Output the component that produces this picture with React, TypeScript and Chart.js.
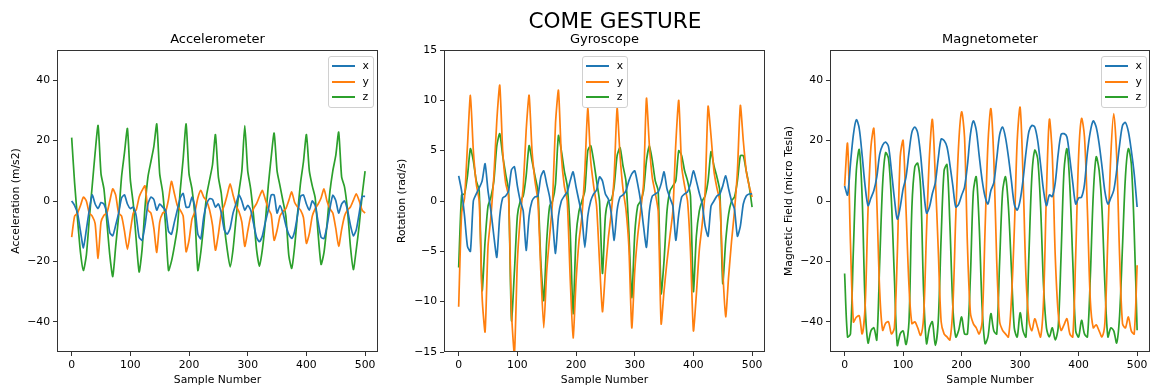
import React, { useEffect, useRef } from "react";
import { Chart, registerables } from "chart.js";

Chart.register(...registerables);

const FONT = "'DejaVu Sans', 'Liberation Sans', sans-serif";
const SERIES_NAMES = ["x", "y", "z"];
const SERIES_COLORS = ["#1f77b4", "#ff7f0e", "#2ca02c"];

const sampleIdx = [
  0, 5, 10, 15, 20, 25, 30, 35, 40, 45, 50, 55, 60, 65, 70, 75, 80, 85, 90, 95,
  100, 105, 110, 115, 120, 125, 130, 135, 140, 145, 150, 155, 160, 165, 170, 175, 180, 185, 190, 195,
  200, 205, 210, 215, 220, 225, 230, 235, 240, 245, 250, 255, 260, 265, 270, 275, 280, 285, 290, 295,
  300, 305, 310, 315, 320, 325, 330, 335, 340, 345, 350, 355, 360, 365, 370, 375, 380, 385, 390, 395,
  400, 405, 410, 415, 420, 425, 430, 435, 440, 445, 450, 455, 460, 465, 470, 475, 480, 485, 490, 495,
  500,
];

const xTickValues = [0, 100, 200, 300, 400, 500];
const accelTickValues = [-40, -20, 0, 20, 40];
const gyroTickValues = [-15, -10, -5, 0, 5, 10, 15];
const magTickValues = [-40, -20, 0, 20, 40];

// Accelerometer (m/s2)
const accelX = [
  0, -1.5, -4, -10, -15.5, -9.5, -3, 2, -1, -2.5, -0.5, -1, -4, -10.5, -11.5, -8, -4, 1, 2, -1,
  -2.5, -2, -5, -12, -13, -8, -1, 1.3, 0.5, -3, -1, -2, -3, -10, -11, -7, -3, 1, 2.5, -2,
  -2, 1.3, -2, -11, -12.5, -5.3, -1, 0.8, 0.5, -2, -1, -4, -9.5, -11, -9, -4, -1, 2, 0, -3,
  -1.4, -3, -7.5, -12, -13.5, -11.5, -7, -3, 2, 2, -4, -1.5, -4, -8, -11, -12.4, -10, -4.5, 1.5, 2,
  -1, -3, 0, -1.5, -7, -12, -12.4, -8.5, -2.5, 1.9, 0.2, -4, -1, 0, -3, -8, -11.5, -9.5, -4, 1.5,
  1.5,
];
const accelY = [
  -12, -5, -4, -1.5, 1.3, 0, -4, -5, -7.5, -19, -7, -4.7, -4, 0, 4, 2, -4, -5, -10, -16,
  -10, -4, -3, 1.3, 3.5, 5, -3, -4, -9, -17, -7, -4, -3.5, 0.5, 6.5, 2.5, -1.5, -3, -5, -16.8,
  -13, -6, -3.6, 1, 3.5, 1.3, 0, -3, -8, -16.3, -11, -4, -1.5, 2, 5.7, 2, -1.5, -3.5, -7, -15,
  -10, -5, -2.5, -0.9, 1.5, 3.5, 0.5, -2.5, -4.5, -13, -9.7, -5, -3.5, -2.5, 0.2, 3, -0.5, -2, -3, -5.5,
  -14, -10.8, -5, -2.5, -1, 1, 4, 0, -2.5, -4, -9, -15, -9.5, -5, -3, -2, 0.2, 2.4, 0, -3,
  -4,
];
const accelZ = [
  21, 6, -6, -17, -23, -18, -6, 5, 16, 25, 9, 4, -7, -18, -25, -15, -5, 8, 16, 24,
  7, -1, -13, -23.5, -16, -2, 8, 13, 18, 25.5, 9, 3, -8, -23, -20, -15, -9, 3.5, 14, 25.5,
  9, 4, -5, -23, -17, -8, 2, 7, 12, 22, 8, 2.4, -8, -16, -21.8, -16, -6, 3, 10, 25,
  10, 4, -5, -16, -21.6, -16, -7, 5, 14.5, 22.5, 10, 5, 0, -5, -18, -22.3, -15, -4, 6, 13,
  22, 10, 5, 1, -11, -21, -17, -8, 3, 10, 15, 22.8, 8, 4.6, -3, -15, -22.7, -16, -8, 2,
  9.9,
];

// Gyroscope (rad/s)
const gyroX = [
  2.5, 1, -1.5, -4.5, -5, 0, 0.7, 1.3, 2, 3.7, 1, -1, -3.5, -5.6, -1.5, 0.3, 0.5, 1, 3.1, 3.4,
  1.5, 0, -1, -4.9, -1.5, 0, 0.4, 0.5, 2.4, 3, 1.7, 0.4, -2, -5.2, -1.5, 0, 0.5, 0.9, 2, 2.9,
  1.4, 0, -1.5, -4.6, -1.5, 0, 0.7, 1.1, 2.4, 2, 0.7, 0.2, -1.2, -3.9, -0.9, 0.4, 0.6, 1, 2, 2.7,
  3, 1.7, 0, -2.5, -4.6, -1, 0.5, 0.7, 0.9, 1.7, 2.9, 1.2, 0.3, -0.5, -3.9, -1.3, 0.4, 0.7, 0.9, 1.7,
  3, 2, 0.8, -0.3, -2.5, -3.5, -0.5, 0, 0.5, 0.7, 1.5, 2.5, 1.2, 0, -0.8, -3.5, -2.5, -0.3, 0.5, 0.7,
  0.7,
];
const gyroY = [
  -10.5, -1.2, 0.3, 5.5, 10.5, 5, 1.7, 0, -9.6, -13, -4.5, -1.5, 2.5, 8, 11.5, 5, 1.8, 0.5, -11, -15.2,
  -6, -1.6, 1.4, 7, 10.5, 5, 2, 0, -7, -12.6, -7, -3.5, 0, 7.7, 11, 4.5, 1.5, 0, -7.6, -13.6,
  -8, -4, -1.5, 3, 9.2, 4, 1.5, -0.5, -6, -11, -7, -3.7, -1.2, 2.5, 9.2, 4.5, 1.2, -0.8, -4.5, -12.6,
  -7, -3.5, -1, 1.7, 10.2, 5.5, 2.3, 0.8, -1, -12.2, -8.9, -6, -3.5, -1, 5.7, 10, 3.4, 1.5, 0, -5,
  -12.9, -9.3, -4.9, -2.3, 1, 9.4, 6.5, 3, 1.3, 0, -6.9, -11.5, -7.5, -4, -1, 3, 9.5, 6, 3, 1.5,
  0.4,
];
const gyroZ = [
  -6.6, 0.6, 0.7, 2.5, 5.2, 4, 2, 1, -8.9, -4, -0.5, 0.4, 2, 5.5, 6.7, 4.5, 2.7, 1, -11.9, -7,
  -1.5, 0, 0.5, 2.5, 5.5, 4, 2.5, 1, -6, -9.9, -4, -0.5, 0, 1.7, 6.5, 5, 3, 1.5, -3, -11.2,
  -3.5, -1, 0, 1, 5, 5.5, 4, 2, 0, -7.2, -1.5, 0, 0.1, 1.5, 4.5, 5.3, 3.5, 2, -3, -9.6,
  -3.3, -0.5, 0, 1, 4, 5.5, 4, 2, 1, -9.2, -5.9, -1, 1, 1.5, 2, 5, 4.5, 3, 2, 0.5,
  -9, -3.5, -1, 0, 0.5, 2, 4.9, 3.5, 2.4, 1, -8.2, -4, -1.3, 0, 0.4, 2, 4.5, 4.5, 3, 1.5,
  -0.6,
];

// Magnetometer (micro Tesla)
const magX = [
  5, 2, 12.4, 22, 26.9, 24, 15, 5, -1.5, 1, 3.5, 8, 15.5, 18.5, 19.5, 18, 10, 1, -6, -2,
  4, 8, 16, 22.8, 24.5, 22.5, 15, 4, -4, -2, 2.5, 6, 14, 20.5, 20, 17.9, 12, 5, -2, -1,
  1.9, 4.6, 12, 22, 26.5, 23.5, 15, 7, 1.5, -1, 3.5, 6, 14, 22, 24.5, 21, 14.6, 6.8, -1, -3,
  0.2, 7, 16, 23, 25, 24.5, 20, 12, 3.5, -1.5, 2, 1.5, 6, 15.5, 22, 22.3, 21.2, 14, 6, -1,
  1, 1.3, 5.5, 16, 23, 26.5, 24.5, 19, 11.3, 3, -1, 1, 3.5, 10, 18.5, 25, 26, 23, 16.8, 9,
  -2,
];
const magY = [
  5, 19, -14, -40, -38.5, -38, -44, -35, -3, 18, 24, 0, -30, -42.8, -40.5, -40, -44, -42, -18, 14.6,
  20, -3, -28, -40.6, -40, -42, -44.5, -38.4, -10, 15, 27, 8, -16, -40, -44, -45, -46, -35, -5, 19,
  29.5, 21, -15, -37, -40.6, -42, -44, -40, -10, 19, 30.6, 14, -20, -40, -42.8, -44, -45, -33, -10, 20,
  31, 8, -25, -39.5, -43, -39, -42, -45, -33, 3, 27, 15, -18, -37, -42.8, -41, -39, -44, -45, -18,
  15, 27.3, 21.2, -3, -33, -42, -41, -43, -45, -40, -12, 15, 28.9, 15, -18, -40.6, -42, -38.4, -43, -44,
  -21.3,
];
const magZ = [
  -24, -45, -44, -16, 10, 17, 1, -34, -47, -43, -42, -46, -20, 5.7, 16, 14, 0, -25, -47.8, -44,
  -43, -47.5, -40, -2, 11.3, 12.5, 4, -30, -47.2, -42, -40, -47.8, -40, -12, 10, 12, -8, -35, -45, -42.8,
  -38.4, -44, -44, -25, 3, 8, -8, -35, -47.2, -45, -37.3, -43, -44, -20, 3, 8, -2, -22, -42, -45,
  -37, -43, -45, -18, 8, 16.8, 14, -2, -28, -42, -45, -42, -46, -42, -18, 10, 17.3, 5, -20, -43,
  -45, -39.5, -44, -45, -25, 2, 14.6, 10.2, -3, -28, -45, -42, -43, -47, -38, -15, 8, 17.3, 12.4, -10,
  -42.8,
];

const minus = (v: number) => (v < 0 ? "\u2212" + Math.abs(v) : String(v));

const framePlugin = {
  id: "frameBox",
  afterDatasetsDraw(chart: any) {
    const { ctx, chartArea: a } = chart;
    ctx.save();
    ctx.strokeStyle = "#333";
    ctx.lineWidth = 1;
    const l = Math.round(a.left) + 0.5;
    const t = Math.round(a.top) + 0.5;
    const r = Math.round(a.right) - 0.5;
    const b = Math.round(a.bottom) - 0.5;
    ctx.strokeRect(l, t, r - l, b - t);
    ctx.restore();
  },
};

type PanelProps = {
  left: number;
  width: number;
  areaLeft: number;
  areaRight: number;
  yMin: number;
  yMax: number;
  yTicks: number[];
  yLabel: string;
  yTitlePad: number;
  series: number[][];
  tension: number;
};

function Panel(p: PanelProps) {
  const ref = useRef<HTMLCanvasElement>(null);
  useEffect(() => {
    const tickFont = { family: FONT, size: 10.8 };
    const chart = new Chart(ref.current as HTMLCanvasElement, {
      type: "line",
      data: {
        datasets: p.series.map((s, i) => ({
          label: SERIES_NAMES[i],
          data: sampleIdx.map((x, j) => ({ x, y: s[j] })),
          borderColor: SERIES_COLORS[i],
          backgroundColor: SERIES_COLORS[i],
          borderWidth: 1.7,
          pointRadius: 0,
          tension: p.tension,
          fill: false,
        })),
      },
      options: {
        responsive: false,
        animation: false,
        layout: {
          padding: { top: 50, left: 0, bottom: 0, right: p.width - (p.areaRight - p.left) },
        },
        plugins: {
          legend: { display: false },
          tooltip: { enabled: false },
          title: { display: false },
        },
        scales: {
          x: {
            type: "linear",
            min: -25,
            max: 522,
            afterBuildTicks: (s: any) => {
              s.ticks = xTickValues.map((v) => ({ value: v }));
            },
            afterFit: (s: any) => {
              s.height = 38;
            },
            ticks: {
              font: tickFont,
              color: "#000",
              padding: 3,
              maxRotation: 0,
              autoSkip: false,
              callback: (v: any) => minus(Number(v)),
            },
            grid: {
              drawOnChartArea: false,
              drawTicks: true,
              tickLength: 4,
              color: "#333",
              lineWidth: 1,
            },
            border: { display: false },
            title: {
              display: true,
              text: "Sample Number",
              font: tickFont,
              color: "#000",
              padding: { top: 0, bottom: 3.5 },
            },
          },
          y: {
            type: "linear",
            min: p.yMin,
            max: p.yMax,
            afterBuildTicks: (s: any) => {
              s.ticks = p.yTicks.map((v) => ({ value: v }));
            },
            afterFit: (s: any) => {
              s.width = p.areaLeft - p.left;
            },
            ticks: {
              font: tickFont,
              color: "#000",
              padding: 3,
              autoSkip: false,
              callback: (v: any) => minus(Number(v)),
            },
            grid: {
              drawOnChartArea: false,
              drawTicks: true,
              tickLength: 4,
              color: "#333",
              lineWidth: 1,
            },
            border: { display: false },
            title: {
              display: true,
              text: p.yLabel,
              font: tickFont,
              color: "#000",
              padding: { top: p.yTitlePad, bottom: 0 },
            },
          },
        },
      },
      plugins: [framePlugin],
    } as any);
    return () => chart.destroy();
  }, []);
  return (
    <canvas
      ref={ref}
      width={p.width}
      height={390}
      style={{ position: "absolute", left: p.left, top: 0, width: p.width, height: 390 }}
    />
  );
}

function Legend({ left, top }: { left: number; top: number }) {
  return (
    <>
      <div
        style={{
          position: "absolute",
          left,
          top,
          width: 46,
          height: 52,
          boxSizing: "border-box",
          border: "1px solid #d0d0d0",
          borderRadius: 3,
          background: "rgba(255,255,255,0.8)",
        }}
      />
      {SERIES_NAMES.map((n, i) => {
        const yc = Math.round(top + 10.2 + i * 15.8);
        return (
          <React.Fragment key={n}>
            <div
              style={{
                position: "absolute",
                left: Math.round(left + 4),
                top: yc - 1,
                width: 23,
                height: 2,
                background: SERIES_COLORS[i],
              }}
            />
            <div
              style={{
                position: "absolute",
                left: left + 35,
                top: yc - 8.5,
                height: 16,
                lineHeight: "16px",
                fontSize: 10.8,
                fontFamily: FONT,
                color: "#000",
              }}
            >
              {n}
            </div>
          </React.Fragment>
        );
      })}
    </>
  );
}

function Title({ text, cx, top, size }: { text: string; cx: number; top: number; size: number }) {
  return (
    <div
      style={{
        position: "absolute",
        left: cx - 200,
        width: 400,
        top,
        textAlign: "center",
        fontFamily: FONT,
        fontSize: size,
        lineHeight: 1,
        color: "#000",
        whiteSpace: "nowrap",
      }}
    >
      {text}
    </div>
  );
}

export default function App() {
  return (
    <div
      style={{
        position: "absolute",
        left: 0,
        top: 0,
        width: 1151,
        height: 390,
        background: "#fff",
        overflow: "hidden",
      }}
    >
      <Panel
        left={0}
        width={392}
        areaLeft={57}
        areaRight={378}
        yMin={-50}
        yMax={50}
        yTicks={accelTickValues}
        yLabel="Acceleration (m/s2)"
        yTitlePad={10}
        series={[accelX, accelY, accelZ]}
        tension={0.2}
      />
      <Panel
        left={390}
        width={388}
        areaLeft={444}
        areaRight={765}
        yMin={-15}
        yMax={15}
        yTicks={gyroTickValues}
        yLabel="Rotation (rad/s)"
        yTitlePad={6}
        series={[gyroX, gyroY, gyroZ]}
        tension={0.2}
      />
      <Panel
        left={775}
        width={376}
        areaLeft={830}
        areaRight={1150}
        yMin={-50}
        yMax={50}
        yTicks={magTickValues}
        yLabel="Magnetic Field (micro Tesla)"
        yTitlePad={7.5}
        series={[magX, magY, magZ]}
        tension={0.3}
      />
      <Title text="COME GESTURE" cx={615} top={10} size={21.6} />
      <Title text="Accelerometer" cx={217.5} top={32} size={13} />
      <Title text="Gyroscope" cx={604.5} top={32} size={13} />
      <Title text="Magnetometer" cx={990} top={32} size={13} />
      <Legend left={327.5} top={55.5} />
      <Legend left={581.7} top={55.5} />
      <Legend left={1100.5} top={55.5} />
    </div>
  );
}
